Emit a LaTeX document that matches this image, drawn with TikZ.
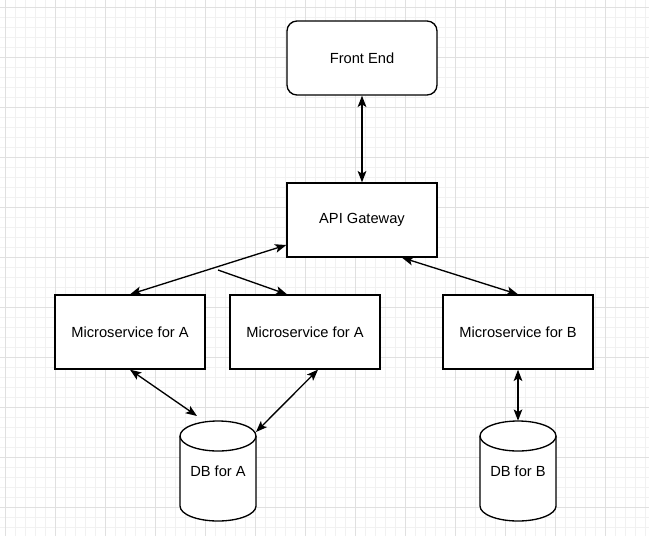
\documentclass[tikz,border=0pt]{standalone}
\usepackage{fontspec}
\setmainfont{Liberation Sans}
\usetikzlibrary{arrows.meta,calc}
\definecolor{gridminor}{HTML}{F1F1F1}
\definecolor{gridmajor}{HTML}{E0E0E0}
\tikzset{
  box/.style={draw=black, line width=1pt, fill=white, minimum width=150*0.75pt, minimum height=74*0.75pt, inner sep=0pt, font=\fontsize{11}{13}\selectfont},
  roundbox/.style={box, rounded corners=7.5pt},
  dbshape/.style={minimum width=76*0.75pt, minimum height=100*0.75pt, inner sep=0pt, font=\fontsize{11}{13}\selectfont},
  link/.style={line width=1pt, {Stealth[length=8.5pt,width=6.5pt,inset=2pt]}-{Stealth[length=8.5pt,width=6.5pt,inset=2pt]}},
  onelink/.style={line width=1pt, -{Stealth[length=8.5pt,width=6.5pt,inset=2pt]}},
}
\begin{document}
\begin{tikzpicture}[x=0.75pt,y=-0.75pt]
\useasboundingbox (0,0) rectangle (649,536);
% grid
\foreach \x in {5,15,...,645} \draw[gridminor,line width=0.75pt] (\x,0) -- (\x,536);
\foreach \y in {7,17,...,536} \draw[gridminor,line width=0.75pt] (0,\y) -- (649,\y);
\foreach \x in {5,55,...,645} \draw[gridmajor,line width=0.75pt] (\x,0) -- (\x,536);
\foreach \y in {7,57,...,536} \draw[gridmajor,line width=0.75pt] (0,\y) -- (649,\y);
% nodes
\node[roundbox] (fe) at (362,58) {Front End};
\node[box] (api) at (362,220) {API Gateway};
\node[box] (a1) at (130,332) {Microservice for A};
\node[box] (a2) at (305,332) {Microservice for A};
\node[box] (b) at (518,332) {Microservice for B};
% cylinders
\foreach \cx in {218,518}{
  \fill[white] (\cx-38,436) -- (\cx-38,506) arc[start angle=180,end angle=0,x radius=38,y radius=15] -- (\cx+38,436) arc[start angle=0,end angle=-180,x radius=38,y radius=15] -- cycle;
  \draw[line width=1pt] (\cx-38,436) -- (\cx-38,506) arc[start angle=180,end angle=0,x radius=38,y radius=15] -- (\cx+38,436);
  \draw[line width=1pt] (\cx,436) ellipse[x radius=38,y radius=15];
}
\node[dbshape] (dbA) at (218,471) {DB for A};
\node[dbshape] (dbB) at (518,471) {DB for B};
% helper coordinates
\coordinate (apiL) at ($(api.west)+(0,25)$);
\coordinate (apiR) at ($(api.south)+(40,0)$);
\coordinate (split) at (218,270);
\coordinate (a2in) at ($(a2.north)+(-18,0)$);
\coordinate (a2out) at ($(a2.south)+(13,0)$);
\coordinate (dbAl) at (197,416);
\coordinate (dbAr) at (256,432);
% connectors
\draw[link] (fe.south) -- (api.north);
\draw[link] (a1.north) -- (apiL);
\draw[onelink] (split) -- (a2in);
\draw[link] (apiR) -- (b.north);
\draw[link] (a1.south) -- (dbAl);
\draw[link] (a2out) -- (dbAr);
\draw[link] (b.south) -- (dbB.north);
\end{tikzpicture}
\end{document}
